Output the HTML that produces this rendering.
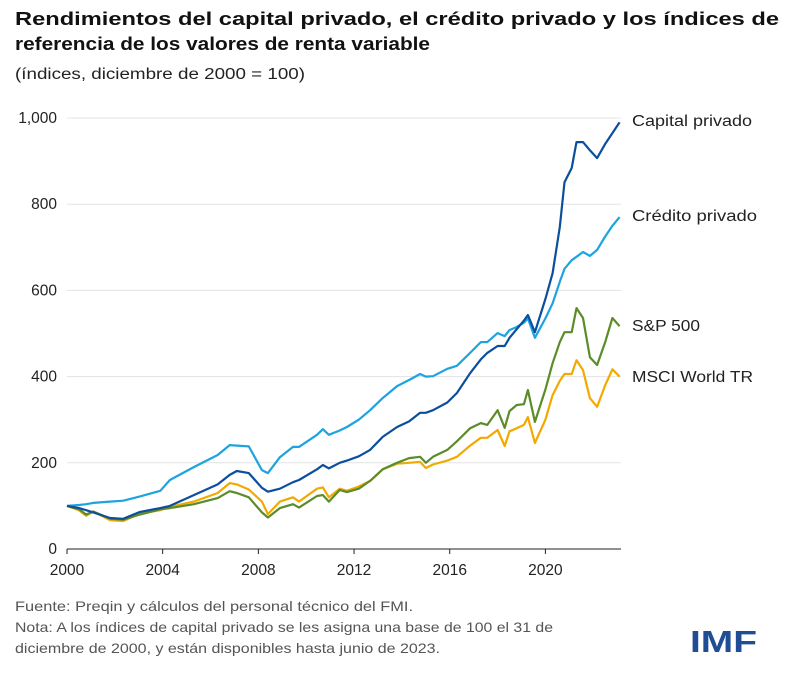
<!DOCTYPE html>
<html><head><meta charset="utf-8"><style>
body{margin:0;background:#fff;width:795px;height:677px;overflow:hidden;font-family:"Liberation Sans",sans-serif}
</style></head><body>
<svg width="795" height="677" viewBox="0 0 795 677" xmlns="http://www.w3.org/2000/svg">
<text x="15" y="25" font-size="18" font-weight="bold" fill="#111" textLength="764" lengthAdjust="spacingAndGlyphs">Rendimientos del capital privado, el crédito privado y los índices de</text>
<text x="15" y="50" font-size="18" font-weight="bold" fill="#111" textLength="415" lengthAdjust="spacingAndGlyphs">referencia de los valores de renta variable</text>
<text x="15" y="79" font-size="15.5" fill="#222" textLength="290" lengthAdjust="spacingAndGlyphs">(índices, diciembre de 2000 = 100)</text>
<g id="grid"></g>
<g id="yticks"></g>
<g id="xticks"></g>
<g id="lines"></g>
<g id="labels"></g>
<text x="15" y="611" font-size="14" fill="#555" textLength="398" lengthAdjust="spacingAndGlyphs">Fuente: Preqin y cálculos del personal técnico del FMI.</text>
<text x="15" y="632" font-size="14" fill="#555" textLength="538" lengthAdjust="spacingAndGlyphs">Nota: A los índices de capital privado se les asigna una base de 100 el 31 de</text>
<text x="15" y="653" font-size="14" fill="#555" textLength="425" lengthAdjust="spacingAndGlyphs">diciembre de 2000, y están disponibles hasta junio de 2023.</text>
<text x="690" y="652" font-size="31" font-weight="bold" fill="#1f4e96" textLength="67" lengthAdjust="spacingAndGlyphs">IMF</text>
</svg>
<script>
const years=[2000,2000.5,2000.8,2001.1,2001.8,2002.35,2003.05,2003.9,2004.3,2005.3,2006.3,2006.8,2007.1,2007.6,2008.15,2008.4,2008.9,2009.45,2009.7,2010.45,2010.7,2010.95,2011.4,2011.7,2012.2,2012.67,2013.2,2013.8,2014.3,2014.76,2015.0,2015.3,2015.9,2016.3,2016.85,2017.3,2017.57,2018.0,2018.3,2018.5,2018.8,2019.1,2019.27,2019.56,2020.0,2020.3,2020.6,2020.8,2021.1,2021.3,2021.57,2021.86,2022.16,2022.5,2022.8,2023.1];
const privateEquity=[100,95,90,85,72,70,86,95,100,125,150,172,181,176,142,133,140,155,160,185,195,187,200,205,215,230,260,283,296,316,316,322,340,362,408,440,455,471,471,490,510,530,543,503,580,640,747,851,884,944,944,925,907,940,965,990];
const privateCredit=[100,102,104,107,110,112,122,135,160,190,218,241,240,238,183,176,213,237,237,265,278,265,275,283,300,322,350,378,392,406,400,401,418,425,455,480,480,501,494,508,515,525,535,490,535,570,620,650,670,678,689,680,694,725,750,770];
const sp500=[100,92,80,87,70,68,80,92,95,104,118,134,130,120,85,73,95,104,96,123,125,110,137,132,140,158,185,200,211,214,200,214,230,250,280,292,288,322,281,320,334,336,369,295,370,431,480,503,503,559,536,445,427,480,536,517];
const msciWorld=[100,90,77,87,67,65,82,90,98,110,130,153,150,138,110,81,110,120,110,140,143,120,140,135,145,158,185,198,200,202,188,196,205,214,240,258,258,276,239,273,280,288,306,246,300,357,390,406,406,438,415,350,330,380,417,400];
const yTicks=[0,200,400,600,800,1000];
const yTickLabels=["0","200","400","600","800","1,000"];
const xTicks=[2000,2004,2008,2012,2016,2020];
const seriesNames=["Capital privado","Crédito privado","S&P 500","MSCI World TR"];

const NS="http://www.w3.org/2000/svg";
const X0=67,X1=621,Y0=549,Y1=118;
function xs(y){return X0+(y-2000)*23.92;}
function ys(v){return Y0-(v/1000)*(Y0-Y1);}
function mk(tag,attrs,parent){const e=document.createElementNS(NS,tag);for(const k in attrs)e.setAttribute(k,attrs[k]);parent.appendChild(e);return e;}
const grid=document.getElementById('grid'),yt=document.getElementById('yticks'),xt=document.getElementById('xticks'),lg=document.getElementById('lines'),lb=document.getElementById('labels');
yTicks.forEach((v,i)=>{
  if(v>0){const l=mk('line',{x1:X0,x2:X1,y1:ys(v),y2:ys(v),stroke:'#e3e3e3','stroke-width':1},grid);
  
  }
  const t=mk('text',{x:57,y:ys(v)+5,'text-anchor':'end','font-size':15.5,fill:'#222'},yt);
  t.textContent=yTickLabels[i];
  
  
});
const ax=mk('line',{x1:X0,x2:X1,y1:Y0,y2:Y0,stroke:'#222','stroke-width':1},xt);


xTicks.forEach(v=>{
  const tk=mk('line',{x1:xs(v),x2:xs(v),y1:Y0,y2:Y0+5,stroke:'#222'},xt);
  
  
  const t=mk('text',{x:xs(v),y:575,'text-anchor':'middle','font-size':15.5,fill:'#222'},xt);
  t.textContent=v;
  
  
});
const series=[[msciWorld,'#f2a900','msci-world-line'],[sp500,'#5b8c2a','sp500-line'],[privateCredit,'#1ca3e0','private-credit-line'],[privateEquity,'#0b4f9c','private-equity-line']];
series.forEach(s=>{
  const d=s[0].map((v,i)=>(i?'L':'M')+xs(years[i]).toFixed(1)+' '+ys(v).toFixed(1)).join(' ');
  const p=mk('path',{d:d,fill:'none',stroke:s[1],'stroke-width':2.2,'stroke-linejoin':'round'},lg);
  
  
});
const labelY=[126,221,331,382];
const labelLen=[120,125,68,121];
seriesNames.forEach((n,i)=>{
  const t=mk('text',{x:632,y:labelY[i],'font-size':15.5,fill:'#222',textLength:labelLen[i],lengthAdjust:'spacingAndGlyphs'},lb);
  t.textContent=n;
  
  
});
</script>
</body></html>
